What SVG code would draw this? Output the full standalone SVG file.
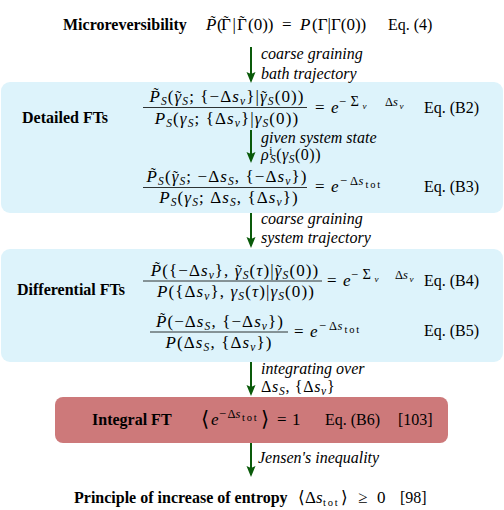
<svg xmlns="http://www.w3.org/2000/svg" width="504" height="510" viewBox="0 0 504 510">
<style>
text{font-family:'Liberation Serif','Times New Roman',serif;font-size:16px;fill:#000}
.b{font-weight:bold}
.m{font-size:17px}
.f{font-size:17px;letter-spacing:1.1px}
.i{font-style:italic}
.s{font-size:11.5px}
.sp{font-size:12.5px}
.sg{font-size:14.5px}
.ss{font-size:9px}
.tt{font-size:10.5px;letter-spacing:1.8px}
.t{font-size:15px;font-style:normal}
.tl{font-size:15px;text-anchor:middle}
.lbl{font-style:italic}
.bar{stroke:#000;stroke-width:0.8}
.conn line{stroke:#0a5a0a;stroke-width:2}
</style>
<defs>
<marker id="ah" markerUnits="userSpaceOnUse" markerWidth="12" markerHeight="10" refX="5" refY="4.5" orient="auto">
<path d="M0,0 L11,4.5 L0,9 L2,4.5 z" fill="#0a5a0a"/>
</marker>
</defs>

<g id="box-detailed"><rect x="1" y="82" width="502" height="131" rx="9" fill="#ddf3fb"/></g>
<g id="box-differential"><rect x="1" y="249" width="502" height="113" rx="9" fill="#ddf3fb"/></g>
<g id="box-integral"><rect x="55" y="397" width="393" height="46" rx="8" fill="#cd797a"/></g>

<g class="conn" id="connectors">
<line x1="251" y1="47" x2="251" y2="77" marker-end="url(#ah)"/>
<line x1="251" y1="130" x2="251" y2="157" marker-end="url(#ah)"/>
<line x1="251" y1="213" x2="251" y2="242" marker-end="url(#ah)"/>
<line x1="251" y1="362" x2="251" y2="390" marker-end="url(#ah)"/>
<line x1="251" y1="443" x2="251" y2="471" marker-end="url(#ah)"/>
<text class="lbl" x="261" y="59">coarse graining</text>
<text class="lbl" x="261" y="79">bath trajectory</text>
<text class="lbl" x="261" y="143">given system state</text>
<text x="261" y="160" style="letter-spacing:0.5px"><tspan class="i">ρ</tspan><tspan class="s" dy="-5">i</tspan><tspan class="s i" dx="-3" dy="8">S</tspan><tspan dy="-3">(</tspan><tspan class="i">γ</tspan><tspan class="s i" dy="3">S</tspan><tspan dy="-3">(0))</tspan></text>
<text class="lbl" x="261" y="224">coarse graining</text>
<text class="lbl" x="261" y="243">system trajectory</text>
<text class="lbl" x="261" y="374">integrating over</text>
<text x="261" y="392" style="letter-spacing:0.7px">Δ<tspan class="i">s</tspan><tspan class="s i" dy="3">S</tspan><tspan dy="-3">, {Δ</tspan><tspan class="i">s</tspan><tspan class="s i" dy="3">ν</tspan><tspan dy="-3">}</tspan></text>
<text class="lbl" x="258" y="463">Jensen's inequality</text>
</g>

<g id="microreversibility">
<text class="b" x="63" y="30">Microreversibility</text>
<text class="m" y="30"><tspan class="i" x="206">P</tspan><tspan x="217">(</tspan><tspan x="221">Γ</tspan><tspan x="232.5">|</tspan><tspan x="237">Γ</tspan><tspan x="248">(0))</tspan><tspan x="282">=</tspan><tspan class="i" x="300">P</tspan><tspan x="312">(Γ|Γ(0))</tspan></text>
<text class="tl" x="213" y="25.5">˜</text>
<text class="tl" x="226" y="25.5">˜</text>
<text class="tl" x="242" y="25.5">˜</text>
<text x="388" y="30">Eq. (4)</text>
</g>

<g id="detailed-fts">
<text class="b" x="22" y="123">Detailed FTs</text>
<text class="f" x="227" y="102" text-anchor="middle"><tspan class="i">P</tspan><tspan class="t" dx="-7.3" dy="-4">˜</tspan><tspan class="s i" dx="1.2" dy="7">S</tspan><tspan dy="-3">(</tspan><tspan class="i">γ</tspan><tspan class="t" dx="-6.4" dy="-1">˜</tspan><tspan class="s i" dx="0.3" dy="4">S</tspan><tspan dy="-3">; {−Δ</tspan><tspan class="i">s</tspan><tspan class="s i" dy="3">ν</tspan><tspan dy="-3">}|</tspan><tspan class="i">γ</tspan><tspan class="t" dx="-6.4" dy="-1">˜</tspan><tspan class="s i" dx="0.3" dy="4">S</tspan><tspan dy="-3">(0))</tspan></text>
<line class="bar" x1="143" y1="107.5" x2="307" y2="107.5"/>
<text class="f" x="227" y="124" text-anchor="middle"><tspan class="i">P</tspan><tspan class="s i" dy="3">S</tspan><tspan dy="-3">(</tspan><tspan class="i">γ</tspan><tspan class="s i" dy="3">S</tspan><tspan dy="-3">; {Δ</tspan><tspan class="i">s</tspan><tspan class="s i" dy="3">ν</tspan><tspan dy="-3">}|</tspan><tspan class="i">γ</tspan><tspan class="s i" dy="3">S</tspan><tspan dy="-3">(0))</tspan></text>
<text class="m" y="113"><tspan x="315">=</tspan><tspan class="i" x="331">e</tspan><tspan class="sp" x="339" dy="-7">−</tspan><tspan class="sg" x="350.5">Σ</tspan><tspan class="ss i" x="362.5" dy="2.5">ν</tspan><tspan class="sp" x="385" dy="-2.5">Δ</tspan><tspan class="sp i" x="393">s</tspan><tspan class="ss i" x="399.5" dy="2.5">ν</tspan></text>
<text x="424" y="113">Eq. (B2)</text>

<text class="f" x="227" y="182" text-anchor="middle"><tspan class="i">P</tspan><tspan class="t" dx="-7.3" dy="-4">˜</tspan><tspan class="s i" dx="1.2" dy="7">S</tspan><tspan dy="-3">(</tspan><tspan class="i">γ</tspan><tspan class="t" dx="-6.4" dy="-1">˜</tspan><tspan class="s i" dx="0.3" dy="4">S</tspan><tspan dy="-3">; −Δ</tspan><tspan class="i">s</tspan><tspan class="s i" dy="3">S</tspan><tspan dy="-3">, {−Δ</tspan><tspan class="i">s</tspan><tspan class="s i" dy="3">ν</tspan><tspan dy="-3">})</tspan></text>
<line class="bar" x1="143" y1="187.5" x2="307" y2="187.5"/>
<text class="f" x="229" y="203" text-anchor="middle"><tspan class="i">P</tspan><tspan class="s i" dy="3">S</tspan><tspan dy="-3">(</tspan><tspan class="i">γ</tspan><tspan class="s i" dy="3">S</tspan><tspan dy="-3">; Δ</tspan><tspan class="i">s</tspan><tspan class="s i" dy="3">S</tspan><tspan dy="-3">, {Δ</tspan><tspan class="i">s</tspan><tspan class="s i" dy="3">ν</tspan><tspan dy="-3">})</tspan></text>
<text class="m" y="192"><tspan x="315">=</tspan><tspan class="i" x="331">e</tspan><tspan class="sp" x="340" dy="-7">−</tspan><tspan class="sp" x="350">Δ</tspan><tspan class="sp i" x="358.5">s</tspan><tspan class="tt" x="365.5" dy="2.5">tot</tspan></text>
<text x="424" y="192">Eq. (B3)</text>
</g>

<g id="differential-fts">
<text class="b" x="17" y="295">Differential FTs</text>
<text class="f" x="235" y="276" text-anchor="middle"><tspan class="i">P</tspan><tspan class="t" dx="-7.3" dy="-4">˜</tspan><tspan dx="1.2" dy="4">({−Δ</tspan><tspan class="i">s</tspan><tspan class="s i" dy="3">ν</tspan><tspan dy="-3">}, </tspan><tspan class="i">γ</tspan><tspan class="t" dx="-6.4" dy="-1">˜</tspan><tspan class="s i" dx="0.3" dy="4">S</tspan><tspan dy="-3">(</tspan><tspan class="i">τ</tspan><tspan>)|</tspan><tspan class="i">γ</tspan><tspan class="t" dx="-6.4" dy="-1">˜</tspan><tspan class="s i" dx="0.3" dy="4">S</tspan><tspan dy="-3">(0))</tspan></text>
<line class="bar" x1="143" y1="281" x2="322" y2="281"/>
<text class="f" x="236" y="297" text-anchor="middle"><tspan class="i">P</tspan><tspan>({Δ</tspan><tspan class="i">s</tspan><tspan class="s i" dy="3">ν</tspan><tspan dy="-3">}, </tspan><tspan class="i">γ</tspan><tspan class="s i" dy="3">S</tspan><tspan dy="-3">(</tspan><tspan class="i">τ</tspan><tspan>)|</tspan><tspan class="i">γ</tspan><tspan class="s i" dy="3">S</tspan><tspan dy="-3">(0))</tspan></text>
<text class="m" y="286"><tspan x="327">=</tspan><tspan class="i" x="343">e</tspan><tspan class="sp" x="351" dy="-7">−</tspan><tspan class="sg" x="362.5">Σ</tspan><tspan class="ss i" x="374.5" dy="2.5">ν</tspan><tspan class="sp" x="395" dy="-2.5">Δ</tspan><tspan class="sp i" x="403">s</tspan><tspan class="ss i" x="409.5" dy="2.5">ν</tspan></text>
<text x="424" y="286">Eq. (B4)</text>

<text class="f" x="220" y="327" text-anchor="middle"><tspan class="i">P</tspan><tspan class="t" dx="-7.3" dy="-4">˜</tspan><tspan dx="1.2" dy="4">(−Δ</tspan><tspan class="i">s</tspan><tspan class="s i" dy="3">S</tspan><tspan dy="-3">, {−Δ</tspan><tspan class="i">s</tspan><tspan class="s i" dy="3">ν</tspan><tspan dy="-3">})</tspan></text>
<line class="bar" x1="150" y1="332" x2="288" y2="332"/>
<text class="f" x="219" y="348" text-anchor="middle"><tspan class="i">P</tspan><tspan>(Δ</tspan><tspan class="i">s</tspan><tspan class="s i" dy="3">S</tspan><tspan dy="-3">, {Δ</tspan><tspan class="i">s</tspan><tspan class="s i" dy="3">ν</tspan><tspan dy="-3">})</tspan></text>
<text class="m" y="337"><tspan x="294">=</tspan><tspan class="i" x="310">e</tspan><tspan class="sp" x="319" dy="-7">−</tspan><tspan class="sp" x="329">Δ</tspan><tspan class="sp i" x="337.5">s</tspan><tspan class="tt" x="344.5" dy="2.5">tot</tspan></text>
<text x="424" y="336">Eq. (B5)</text>
</g>

<g id="integral-ft">
<text class="b" x="92" y="425">Integral FT</text>
<text class="m" y="425"><tspan x="201" style="font-size:21px" dy="1">⟨</tspan><tspan class="i" x="211" dy="-1">e</tspan><tspan class="sp" x="219" dy="-7">−</tspan><tspan class="sp" x="227.5">Δ</tspan><tspan class="sp i" x="235.5">s</tspan><tspan class="tt" x="242" dy="2.5">tot</tspan><tspan x="261" style="font-size:21px" dy="5.5">⟩</tspan><tspan x="277" dy="-1">=</tspan><tspan x="292">1</tspan></text>
<text x="325" y="425">Eq. (B6)</text>
<text x="398" y="425">[103]</text>
</g>

<g id="entropy-principle">
<text class="b" x="74" y="503">Principle of increase of entropy</text>
<text class="m" y="503"><tspan x="298">⟨</tspan><tspan x="305">Δ</tspan><tspan class="i" x="316">s</tspan><tspan class="tt" x="323" dy="3">tot</tspan><tspan x="341" dy="-3">⟩</tspan><tspan x="358">≥</tspan><tspan x="377">0</tspan></text>
<text x="400" y="503">[98]</text>
</g>
</svg>
